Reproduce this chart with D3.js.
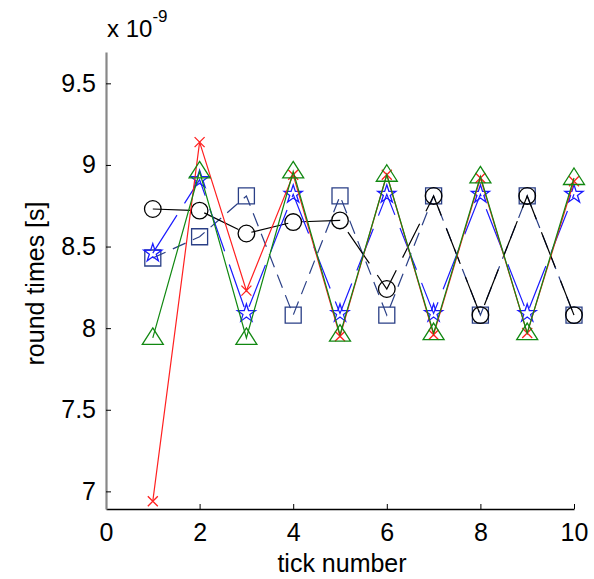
<!DOCTYPE html>
<html>
<head>
<meta charset="utf-8">
<script src="https://cdn.jsdelivr.net/npm/d3@7/dist/d3.min.js"></script>
<style>
  html, body { margin: 0; padding: 0; background: #fff; }
  svg { display: block; font-family: "Liberation Sans", Arial, sans-serif; }
</style>
</head>
<body>
<svg id="chart" width="594" height="579"></svg>
<script>
// tick numbers along the x axis
const ticks = [1, 2, 3, 4, 5, 6, 7, 8, 9, 10];

// round times per tick, in units of 1e-9 s
const circleSeries   = [8.73, 8.72, 8.58, 8.65, 8.66, 8.24, 8.81, 8.08, 8.81, 8.08];
const squareSeries   = [8.43, 8.56, 8.81, 8.08, 8.81, 8.08, 8.81, 8.08, 8.81, 8.08];
const starSeries     = [8.46, 8.91, 8.09, 8.82, 8.09, 8.82, 8.09, 8.82, 8.09, 8.82];
const triangleSeries = [7.94, 8.96, 7.94, 8.96, 7.96, 8.94, 7.97, 8.93, 7.97, 8.92];
const crossSeries    = [6.94, 9.14, 8.23, 8.94, 7.95, 8.94, 7.96, 8.92, 7.97, 8.90];

const xTickValues = [0, 2, 4, 6, 8, 10];
const yTickValues = [7, 7.5, 8, 8.5, 9, 9.5];

const svg = d3.select("#chart");
const m = { left: 106, right: 574, top: 52, bottom: 509 };

const x = d3.scaleLinear().domain([0, 10]).range([m.left, m.right]);
const y = d3.scaleLinear().domain([6.892, 9.692]).range([m.bottom, m.top]);

// series styling: colour, dash pattern, marker kind (drawn in this order)
const series = [
  { values: squareSeries,   color: "#2a3f86", dash: "14,8",  marker: "square" },
  { values: circleSeries,   color: "#000000", dash: "38,14", marker: "circle" },
  { values: starSeries,     color: "#1a1aff", dash: "45,14", marker: "star" },
  { values: crossSeries,    color: "#ff2020", dash: null,    marker: "cross" },
  { values: triangleSeries, color: "#118811", dash: null,    marker: "triangle" }
];

const line = d3.line().x((d, i) => x(ticks[i])).y(d => y(d));

function starPath(R) {
  const r = R * 0.382;
  const pts = [];
  for (let k = 0; k < 10; k++) {
    const a = -Math.PI / 2 + k * Math.PI / 5;
    const rad = k % 2 === 0 ? R : r;
    pts.push([rad * Math.cos(a), rad * Math.sin(a)]);
  }
  return "M" + pts.map(p => p.join(",")).join("L") + "Z";
}

const markerPaths = {
  square: "M-8,-8H8V8H-8Z",
  circle: d3.arc()({ innerRadius: 0, outerRadius: 8.3, startAngle: 0, endAngle: 2 * Math.PI }),
  star: starPath(9.5),
  triangle: "M0,-10L10.5,6.5L-10.5,6.5Z",
  cross: "M-5,-5L5,5M-5,5L5,-5"
};

const plot = svg.append("g");
series.forEach(s => {
  plot.append("path")
    .attr("d", line(s.values))
    .attr("fill", "none")
    .attr("stroke", s.color)
    .attr("stroke-width", 1.2)
    .attr("stroke-dasharray", s.dash);
  plot.selectAll(null)
    .data(s.values)
    .enter().append("path")
    .attr("transform", (d, i) => `translate(${x(ticks[i])},${y(d)})`)
    .attr("d", markerPaths[s.marker])
    .attr("fill", "none")
    .attr("stroke", s.color)
    .attr("stroke-width", 1.3);
});

// axes with inward ticks
const xAxis = svg.append("g").attr("transform", `translate(0,${m.bottom})`)
  .call(d3.axisBottom(x).tickValues(xTickValues).tickSizeInner(-5).tickSizeOuter(0).tickPadding(14));
const yAxis = svg.append("g").attr("transform", `translate(${m.left},0)`)
  .call(d3.axisLeft(y).tickValues(yTickValues).tickSizeInner(-5).tickSizeOuter(0).tickPadding(10)
    .tickFormat(d => d3.format("")(d)));

xAxis.select(".domain").attr("stroke", "#000").attr("stroke-width", 1.5);
yAxis.select(".domain").attr("stroke", "#888").attr("stroke-width", 2.2);
[xAxis, yAxis].forEach(a => {
  a.selectAll(".tick line").attr("stroke", "#000").attr("stroke-width", 1);
  a.selectAll(".tick text").attr("font-size", 25).attr("fill", "#000")
    .attr("font-family", "Liberation Sans, Arial, sans-serif");
});

// axis titles
svg.append("text")
  .attr("x", (m.left + m.right) / 2 + 2).attr("y", 572)
  .attr("text-anchor", "middle").attr("font-size", 25)
  .text("tick number");
svg.append("text")
  .attr("transform", `translate(44,${(m.top + m.bottom) / 2 + 3}) rotate(-90)`)
  .attr("text-anchor", "middle").attr("font-size", 25)
  .text("round times [s]");

// exponent label
const expo = svg.append("text").attr("x", 107).attr("y", 37).attr("font-size", 24);
expo.append("tspan").text("x 10");
expo.append("tspan").attr("dy", -15).attr("font-size", 17).text("-9");
</script>
</body>
</html>
